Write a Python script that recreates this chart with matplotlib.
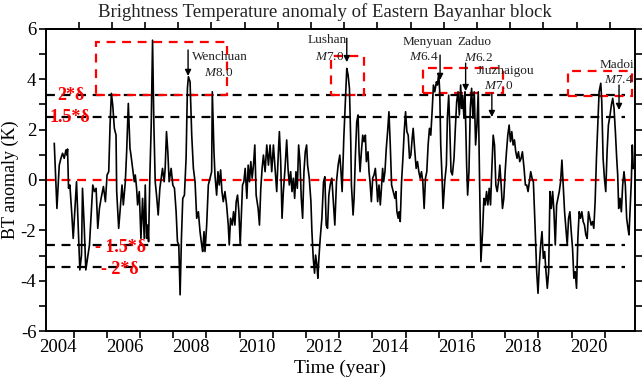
import numpy as np
import matplotlib
matplotlib.use('Agg')
import matplotlib.pyplot as plt
from matplotlib.patches import Rectangle

plt.rcParams['font.family'] = ['Liberation Serif', 'DejaVu Serif']
plt.rcParams['mathtext.fontset'] = 'custom'
plt.rcParams['mathtext.rm'] = 'Liberation Serif'
plt.rcParams['mathtext.it'] = 'Liberation Serif:italic'
plt.rcParams['axes.unicode_minus'] = False

# ---- data (decimal year, K) ----
years1 = [2003.89, 2003.97, 2004.04, 2004.09, 2004.14, 2004.19, 2004.24, 2004.27, 2004.29, 2004.32,
          2004.36, 2004.42, 2004.46, 2004.52, 2004.56, 2004.61, 2004.66, 2004.71, 2004.74, 2004.79,
          2004.84, 2004.89, 2004.95, 2005.05, 2005.10, 2005.15, 2005.20, 2005.25, 2005.30, 2005.37,
          2005.43, 2005.48, 2005.53, 2005.57, 2005.61, 2005.65, 2005.70, 2005.75, 2005.77, 2005.83,
          2005.87, 2005.93, 2005.97, 2006.03, 2006.07, 2006.12, 2006.17, 2006.20, 2006.25, 2006.30,
          2006.33, 2006.37, 2006.40, 2006.45, 2006.50, 2006.55, 2006.60, 2006.63, 2006.67, 2006.70,
          2006.73, 2006.77, 2006.81, 2006.85, 2006.89, 2006.93, 2006.97, 2007.02, 2007.07, 2007.11,
          2007.15, 2007.20, 2007.23, 2007.27, 2007.31, 2007.35, 2007.41, 2007.46, 2007.51, 2007.56,
          2007.60, 2007.64, 2007.68, 2007.72, 2007.76, 2007.81, 2007.86, 2007.90, 2007.93, 2007.98]
bt1 = [1.45, -1.13, 0.59, 0.86, 1.06, 0.86, 1.19, 0.99, 1.23, -0.33,
       -0.20, -1.39, -2.32, -0.99, -0.07, -1.79, -3.57, -2.98, -0.33, -1.79,
       -3.57, -3.11, -2.58, -0.20, -0.46, -0.33, -1.92, -1.13, -0.73, -0.26,
       -0.86, 0.20, 0.33, 2.18, 3.44, 2.98, 2.05, 1.78, -0.46, -1.92,
       -1.26, -0.20, -0.99, -0.07, 1.12, 3.04, 1.26, 0.99, 0.46, -0.07,
       0.20, -0.33, -0.99, -0.46, -2.32, -0.73, -2.32, -0.20, -2.32, -1.79,
       -2.45, 0.20, 2.18, 5.55, 2.18, -0.07, -0.60, -1.39, -0.33, 0.07,
       0.46, -0.07, 0.46, 1.92, 1.12, -0.07, 0.46, -0.20, -0.33, -1.26,
       -2.45, -2.58, -4.56, -2.32, -0.73, -0.60, 0.86, 3.64, 4.10, 3.90]

years2 = [2008.03, 2008.08, 2008.13, 2008.18, 2008.23, 2008.28, 2008.33, 2008.36, 2008.40, 2008.43,
          2008.48, 2008.53, 2008.58, 2008.63, 2008.65, 2008.70, 2008.73, 2008.78, 2008.82, 2008.86,
          2008.90, 2008.94, 2008.98, 2009.03, 2009.08, 2009.13, 2009.16, 2009.20, 2009.25, 2009.29,
          2009.33, 2009.37, 2009.41, 2009.45, 2009.49, 2009.52, 2009.56, 2009.60, 2009.64, 2009.69,
          2009.73, 2009.77, 2009.81, 2009.85, 2009.89, 2009.93, 2009.97, 2010.03, 2010.07, 2010.11,
          2010.15, 2010.19, 2010.24, 2010.29, 2010.34, 2010.39, 2010.44, 2010.49, 2010.54, 2010.59,
          2010.64, 2010.67, 2010.71, 2010.75, 2010.79, 2010.84, 2010.89, 2010.93, 2010.97, 2011.01,
          2011.05, 2011.09, 2011.13, 2011.17, 2011.21, 2011.25, 2011.29, 2011.33, 2011.37, 2011.41,
          2011.45, 2011.49, 2011.52, 2011.57, 2011.62, 2011.65, 2011.69, 2011.73, 2011.76, 2011.80,
          2011.83, 2011.86, 2011.90, 2011.95, 2012.00, 2012.04, 2012.08, 2012.12, 2012.16, 2012.20,
          2012.25, 2012.30]
bt2 = [1.78, 0.46, -0.07, -1.52, -1.26, -2.05, -2.58, -2.84, -2.05, -2.84,
       -1.79, -0.20, 0.07, 0.33, 3.50, 1.12, 0.20, -0.60, 0.33, -0.20,
       0.40, -0.46, -0.86, -0.46, -0.99, -1.79, -2.58, -1.52, -1.79, -1.26,
       -1.79, -0.86, -0.60, -1.26, -2.58, -1.52, -0.20, -0.07, 0.46, -0.73,
       0.59, -0.07, 0.73, 0.07, 0.59, 1.39, -0.60, -1.13, -1.79, -0.33,
       0.46, 0.99, 0.33, 1.39, 0.59, 1.39, 0.33, 1.39, 0.46, -0.46,
       1.12, 1.92, 0.73, -1.52, -0.46, 0.46, 1.59, 0.46, -0.20, 0.33,
       -0.46, 0.07, -0.73, 0.33, -0.33, 1.39, 0.73, -0.73, -1.52, 0.33,
       1.12, 1.39, 0.59, 0.07, -0.86, -2.05, -3.11, -3.70, -2.98, -3.37,
       -3.90, -3.11, -2.32, -1.52, -0.07, 0.13, -1.79, -1.92, -0.60, -0.20,
       0.07, -0.99]

years3 = [2012.34, 2012.39, 2012.44, 2012.49, 2012.52, 2012.56, 2012.61, 2012.66, 2012.70, 2012.74,
          2012.78, 2012.82, 2012.84, 2012.89, 2012.92, 2012.96, 2013.00, 2013.04, 2013.07, 2013.10,
          2013.14, 2013.18, 2013.22, 2013.26, 2013.29, 2013.34, 2013.37, 2013.40, 2013.44, 2013.48,
          2013.52, 2013.56, 2013.60, 2013.63, 2013.67, 2013.71, 2013.75, 2013.78, 2013.81, 2013.85,
          2013.89, 2013.93, 2013.97, 2014.01, 2014.05, 2014.10, 2014.15, 2014.18, 2014.21, 2014.25,
          2014.28, 2014.31, 2014.35, 2014.39, 2014.43, 2014.47, 2014.51, 2014.55, 2014.59, 2014.63,
          2014.67, 2014.70, 2014.75, 2014.79, 2014.83, 2014.87, 2014.91, 2014.95, 2014.99, 2015.03,
          2015.07, 2015.11, 2015.15, 2015.19, 2015.23, 2015.27, 2015.31, 2015.35, 2015.40, 2015.43,
          2015.47, 2015.50, 2015.53, 2015.57, 2015.60, 2015.65, 2015.70, 2015.73, 2015.77, 2015.80,
          2015.84, 2015.88, 2015.93, 2015.97, 2016.01, 2016.05, 2016.09, 2016.13, 2016.16, 2016.19,
          2016.23, 2016.26, 2016.31, 2016.34, 2016.38, 2016.42, 2016.46, 2016.50, 2016.54, 2016.58,
          2016.62, 2016.66, 2016.70, 2016.74]
bt3 = [-1.79, -0.07, 0.59, 0.99, 0.46, -0.46, 1.65, 3.24, 4.43, 4.17,
       3.64, 1.52, -0.20, -1.39, -0.73, 0.99, 2.31, 2.58, 1.12, 0.33,
       1.12, 1.78, 1.52, 1.78, 0.73, 1.12, 0.33, -0.07, -0.86, 0.07,
       0.20, 0.46, -0.20, -0.86, -0.20, -0.99, -0.20, 0.46, -0.07, 0.33,
       1.26, 1.92, 2.71, 1.39, -0.20, -0.46, -0.73, -0.46, -1.26, -1.52,
       -1.26, -1.65, -0.07, 0.86, 1.92, 2.71, 1.92, 1.78, 0.86, 0.99,
       1.65, 2.05, 1.12, 0.46, 0.73, 0.33, 0.07, 0.33, -0.07, -1.13,
       0.07, 0.33, 1.39, 2.05, 1.78, 2.71, 3.77, 3.50, 3.90, 3.77,
       4.23, 3.50, 1.39, 0.07, -1.13, -0.07, 0.59, 2.45, 3.37, 2.18,
       0.33, 0.20, 0.86, 2.05, 3.11, 3.50, 2.58, 3.77, 2.84, 3.37,
       2.45, 3.50, 0.59, -0.60, 0.33, 2.84, 3.64, 2.45, 3.50, 1.39,
       2.18, 3.50, -0.07, -3.24]

years4 = [2016.79, 2016.83, 2016.87, 2016.91, 2016.95, 2016.99, 2017.03, 2017.07, 2017.11, 2017.15,
          2017.19, 2017.23, 2017.27, 2017.31, 2017.35, 2017.39, 2017.43, 2017.47, 2017.51, 2017.55,
          2017.59, 2017.63, 2017.67, 2017.71, 2017.75, 2017.79, 2017.83, 2017.87, 2017.91, 2017.95,
          2017.99, 2018.04, 2018.08, 2018.12, 2018.16, 2018.20, 2018.24, 2018.28, 2018.32, 2018.37,
          2018.42, 2018.46, 2018.50, 2018.54, 2018.58, 2018.62, 2018.66, 2018.70, 2018.74, 2018.78,
          2018.82, 2018.86, 2018.90, 2018.94, 2018.98, 2019.02, 2019.06, 2019.10, 2019.14, 2019.18,
          2019.22, 2019.26, 2019.30, 2019.34, 2019.38, 2019.42, 2019.46, 2019.50, 2019.54, 2019.58,
          2019.62, 2019.66, 2019.70, 2019.74, 2019.78, 2019.82, 2019.86, 2019.90, 2019.94, 2019.98,
          2020.02, 2020.06, 2020.10, 2020.14, 2020.18, 2020.22, 2020.26, 2020.30, 2020.35, 2020.38,
          2020.42, 2020.46, 2020.50, 2020.54, 2020.58, 2020.63, 2020.67, 2020.71, 2020.75, 2020.79,
          2020.83, 2020.86, 2020.89, 2020.93, 2020.97, 2021.01, 2021.05, 2021.09, 2021.13, 2021.17,
          2021.20, 2021.23, 2021.27, 2021.30, 2021.33]
bt4 = [-2.05, -0.73, -0.99, -0.46, -0.99, -0.33, -0.99, 0.46, 1.78, 1.39,
       -0.20, -0.46, -0.07, 0.59, -0.20, -1.13, -0.73, 0.33, 1.12, 1.78,
       2.18, 1.52, 1.92, 1.39, 1.59, 1.12, 0.86, 1.12, 0.73, 0.86,
       1.12, 0.46, -0.20, -0.20, -0.46, -0.07, 0.33, 0.07, -0.07, -1.79,
       -3.64, -4.50, -3.37, -2.58, -2.05, -3.11, -2.84, -3.64, -4.30, -3.64,
       -0.46, -1.13, -0.46, -1.26, -2.58, -0.99, -0.73, -0.46, -0.07, 0.79,
       -0.20, -1.26, -1.92, -2.58, -1.52, -1.26, -2.05, -2.71, -3.90, -3.64,
       -4.30, -2.32, -1.26, -1.52, -1.26, -1.65, -1.79, -2.18, -2.32, -1.26,
       -1.52, -1.79, -1.65, -1.92, -0.86, 0.86, 2.18, 3.50, 3.84, 3.11,
       0.86, 0.07, -0.46, 1.12, 2.18, 2.58, 2.98, 3.24, 2.84, 1.92,
       0.86, 0.20, -1.13, -0.73, -1.26, -0.20, 0.33, -0.20, -1.52, -1.92,
       -2.18, -1.26, -0.07, 1.39, 0.46]

# threshold levels (K)
lev_2d_pos, lev_15d_pos = 3.37, 2.49
lev_15d_neg, lev_2d_neg = -2.58, -3.45

# anomaly boxes: (x0, x1, y0, y1)
boxes = [(2005.15, 2009.09, 3.37, 5.48),
         (2012.22, 2013.22, 3.37, 4.92),
         (2014.99, 2017.40, 3.44, 4.46),
         (2019.37, 2021.28, 3.35, 4.34)]

# earthquakes: name, magnitude, arrow x, arrow top, arrow tip, name pos, mag pos
quakes = [('Wenchuan', '8.0', 2007.92, 5.16, 4.13, (2008.04, 4.88), (2008.40, 4.25)),
          ('Lushan', '7.0', 2012.70, 5.63, 4.68, (2011.53, 5.56), (2011.74, 4.88)),
          ('Menyuan', '6.4', 2015.51, 4.96, 3.97, (2014.39, 5.48), (2014.57, 4.88)),
          ('Zaduo', '6.2', 2016.28, 4.64, 3.53, (2016.02, 5.48), (2016.23, 4.84)),
          ('Jiuzhaigou', '7.0', 2017.07, 3.45, 2.50, (2016.62, 4.33), (2016.83, 3.73)),
          ('Madoi', '7.4', 2020.90, 3.77, 2.78, (2020.33, 4.56), (2020.45, 3.97))]

year_labels = [2004, 2006, 2008, 2010, 2012, 2014, 2016, 2018, 2020]

t = np.array(years1 + years2 + years3 + years4)
bt = np.array(bt1 + bt2 + bt3 + bt4)

fig = plt.figure(figsize=(6.43, 3.85), dpi=100)
ax = fig.add_axes([0.0715, 0.140, 0.916, 0.785])
x0, x1 = 2003.64, 2021.38
ax.set_xlim(x0, x1)
ax.set_ylim(-6, 6)

dash = (0, (4, 3))
ax.plot([x0, 2021.30], [0, 0], color='red', lw=1.6, ls=dash, zorder=2)
for lev in [lev_2d_pos, lev_15d_pos, lev_15d_neg, lev_2d_neg]:
    ax.plot([x0, 2021.08], [lev, lev], color='black', lw=1.6, ls=dash, zorder=2)

for bx0, bx1, by0, by1 in boxes:
    ax.add_patch(Rectangle((bx0, by0), bx1 - bx0, by1 - by0, fill=False,
                           edgecolor='red', lw=1.6, ls=dash, zorder=3))

ax.plot(t, bt, color='black', lw=1.2, zorder=4)

for name, mag, xa, ytop, ytip, npos, mpos in quakes:
    ax.annotate('', xy=(xa, ytip), xytext=(xa, ytop),
                arrowprops=dict(arrowstyle='-|>', color='black', lw=1.0,
                                mutation_scale=9, shrinkA=0, shrinkB=0), zorder=5)
    ax.text(npos[0], npos[1], name, fontsize=9.5, color='#222222', ha='left', va='center')
    ax.text(mpos[0], mpos[1], r'$\mathit{M}$' + mag, fontsize=9.5, color='#222222',
            ha='left', va='center')

red_kw = dict(color='red', fontsize=13, fontweight='bold', ha='center', va='center', zorder=6)
ax.text(2004.39, lev_2d_pos, '2*δ', **red_kw)
ax.text(2004.36, lev_15d_pos, '1.5*δ', **red_kw)
ax.text(2005.87, -2.70, '- 1.5*δ', **red_kw)
ax.text(2005.87, -3.57, '- 2*δ', **red_kw)

# axes styling
for sp in ax.spines.values():
    sp.set_linewidth(1.4)
ax.set_yticks(np.arange(-6, 7, 2))
ax.set_yticks(np.arange(-5, 6, 2), minor=True)
ax.set_xticks(year_labels)
ax.set_xticklabels([str(y) for y in year_labels])
ax.set_xticks(np.arange(2004.47, 2020.6, 1.0), minor=True)
ax.tick_params(axis='x', which='major', length=0, labelsize=13.5, pad=6)
ax.tick_params(axis='x', which='minor', length=5, width=1.2, direction='out')
ax.tick_params(axis='y', which='both', length=5, width=1.2, direction='out',
               right=True, labelsize=13.5, pad=2)
top = ax.secondary_xaxis('top')
top.set_xticks(np.arange(2004.62, 2020.7, 1.0))
top.set_xticklabels([])
top.tick_params(length=5, width=1.2, direction='out')
top.spines['top'].set_linewidth(1.4)

ax.set_xlabel('Time (year)', fontsize=14, labelpad=2)
ax.set_ylabel('BT anomaly (K)', fontsize=13)
ax.yaxis.set_label_coords(-0.046, 0.5)
fig.text(0.505, 0.968, 'Brightness Temperature anomaly of Eastern Bayanhar block',
         ha='center', va='center', fontsize=13.5, color='#222222')

fig.savefig('out.png', dpi=100)
